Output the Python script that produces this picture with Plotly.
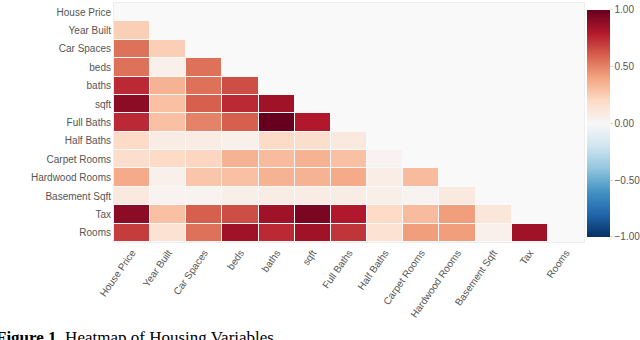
import numpy as np
import plotly.graph_objects as go

labels = ["House Price", "Year Built", "Car Spaces", "beds", "baths", "sqft",
          "Full Baths", "Half Baths", "Carpet Rooms", "Hardwood Rooms",
          "Basement Sqft", "Tax", "Rooms"]

# lower triangle of the correlation matrix, row by row (columns before the diagonal)
lower = [
    [],
    [0.25],
    [0.55, 0.25],
    [0.55, 0.05, 0.55],
    [0.75, 0.35, 0.55, 0.65],
    [0.90, 0.30, 0.60, 0.75, 0.85],
    [0.75, 0.30, 0.50, 0.60, 1.00, 0.80],
    [0.20, 0.08, 0.08, 0.05, 0.20, 0.18, 0.10],
    [0.18, 0.20, 0.22, 0.35, 0.32, 0.35, 0.30, 0.03],
    [0.38, 0.05, 0.28, 0.30, 0.35, 0.35, 0.38, 0.07, 0.32],
    [0.10, 0.03, 0.03, 0.06, 0.08, 0.08, 0.08, 0.06, 0.03, 0.10],
    [0.90, 0.30, 0.60, 0.65, 0.85, 0.95, 0.80, 0.20, 0.32, 0.42, 0.12],
    [0.70, 0.15, 0.55, 0.85, 0.75, 0.85, 0.72, 0.15, 0.42, 0.42, 0.05, 0.85],
]

n = len(labels)
z = np.full((n, n), np.nan)
for i, row in enumerate(lower):
    for j, v in enumerate(row):
        z[i, j] = v

fig = go.Figure()
fig.add_trace(go.Heatmap(
    z=z, x=labels, y=labels,
    colorscale="RdBu", reversescale=True, zmin=-1, zmax=1,
    xgap=1, ygap=1, hoverongaps=False,
    colorbar=dict(
        x=1.006, xanchor="left", xpad=0, y=0.496, yanchor="middle",
        len=0.95, ypad=0, thickness=23, outlinewidth=0,
        tickvals=[1, 0.5, 0, -0.5, -1], tickformat=".2f",
        ticks="outside", ticklen=3, tickcolor="#f4d0c0",
        tickfont=dict(family="Arial", size=10, color="#555"),
    ),
))

fig.update_layout(
    width=640, height=340,
    margin=dict(l=114, r=56, t=3, b=98, autoexpand=False),
    paper_bgcolor="white", plot_bgcolor="#f9f9f9",
    font=dict(family="Arial", size=10, color="#555"),
    annotations=[dict(
        text="<b>Figure 1.</b> Heatmap of Housing Variables",
        xref="paper", yref="paper", x=-0.255, y=-0.352,
        xanchor="left", yanchor="top", showarrow=False,
        font=dict(family="Liberation Serif", size=17, color="black"),
    )],
)
fig.update_xaxes(tickangle=-55, showgrid=False, zeroline=False,
                 showline=True, linecolor="#eeeeee", mirror=True, ticklen=0)
fig.update_yaxes(autorange="reversed", showgrid=False, zeroline=False,
                 showline=True, linecolor="#eeeeee", mirror=True, ticklen=0)

fig.write_html("out.html", config={"displayModeBar": False},
               post_script="document.body.style.margin='0';")
